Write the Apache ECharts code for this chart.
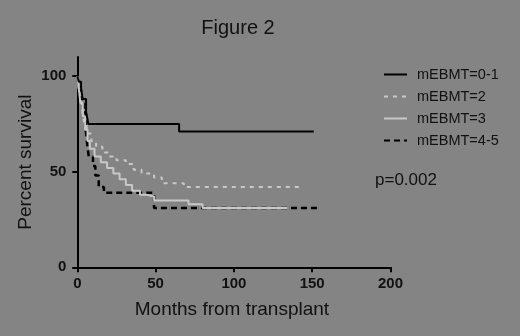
<!DOCTYPE html>
<html>
<head>
<meta charset="utf-8">
<script src="https://cdn.jsdelivr.net/npm/echarts@6/dist/echarts.min.js"></script>
<style>
  html, body { margin: 0; padding: 0; background: #848484; }
  #chart { width: 520px; height: 336px; }
</style>
</head>
<body>
<div id="chart"></div>
<script>
// Kaplan-Meier steps (months, percent survival)
const groups = ['mEBMT=0-1', 'mEBMT=2', 'mEBMT=3', 'mEBMT=4-5'];

const g01Months = [0, 0.9, 2.4, 3.4, 5.6, 6.4, 7, 65, 151];
const g01Surv   = [100, 97, 94, 88, 81, 78, 75, 71, 71];

const g2Months = [0, 1, 2.5, 3.5, 4.5, 6, 9, 12, 16, 20, 25, 31, 36, 41, 49, 54, 68, 142];
const g2Surv   = [100, 93, 86, 80, 75, 70, 66, 63, 60, 58, 56, 54, 51, 49, 47, 44, 42, 42];

const g3Months = [0, 1, 2, 3.5, 5, 6.5, 8, 11, 15, 19, 23, 27, 31, 35, 40, 44, 49, 71, 80, 134];
const g3Surv   = [100, 93, 86, 79, 72, 66, 62, 58, 55, 52, 49, 46, 43, 40, 38, 37, 35, 33, 31, 31];

const g45Months = [0, 1, 2, 4, 5.5, 6.2, 7.3, 10, 11.5, 13.7, 17, 49, 153];
const g45Surv   = [100, 95, 88, 81, 71, 65, 58, 53, 48, 42, 39, 31, 31];

const xTicks = [0, 50, 100, 150, 200];
const yTicks = [0, 50, 100];

const pText = 'p=0.002';

function pairs(xs, ys) {
  return xs.map((x, i) => [x, ys[i]]);
}

const font = 'Arial, "Liberation Sans", sans-serif';
const chart = echarts.init(document.getElementById('chart'));

chart.setOption({
  backgroundColor: '#848484',
  animation: false,
  textStyle: { fontFamily: font },
  title: {
    text: 'Figure 2',
    left: 233,
    top: 13,
    textAlign: 'center',
    textStyle: { fontSize: 20, fontWeight: 'normal', color: '#111', fontFamily: font }
  },
  legend: {
    data: groups,
    orient: 'vertical',
    left: 378,
    top: 62,
    itemWidth: 23,
    itemHeight: 14,
    itemGap: 7,
    itemStyle: { opacity: 0 },
    textStyle: { fontSize: 14.5, color: '#111', fontFamily: font, padding: [0, 0, 0, 5] }
  },
  graphic: [{
    type: 'text',
    left: 375,
    top: 172,
    style: { text: pText, fontSize: 17, fill: '#111', fontFamily: font }
  }],
  grid: { left: 73.4, right: 129.5, top: 57, bottom: 68.7 },
  xAxis: {
    type: 'value',
    min: -2.5,
    max: 200,
    name: 'Months from transplant',
    nameLocation: 'middle',
    nameGap: 33,
    nameTextStyle: { fontSize: 19, color: '#111' },
    splitLine: { show: false },
    axisLine: { lineStyle: { color: '#000', width: 2 } },
    axisTick: { customValues: xTicks, length: 5, lineStyle: { color: '#000', width: 2 } },
    axisLabel: { customValues: xTicks, color: '#111', fontSize: 15, fontWeight: 'bold', margin: 9 }
  },
  yAxis: {
    type: 'value',
    min: 0,
    max: 110,
    name: 'Percent survival',
    nameLocation: 'middle',
    nameGap: 38,
    nameMoveOverlap: false,
    nameTextStyle: { fontSize: 19, color: '#111' },
    splitLine: { show: false },
    axisLine: { lineStyle: { color: '#000', width: 2 } },
    axisTick: { customValues: yTicks, length: 5, lineStyle: { color: '#000', width: 2 } },
    axisLabel: { customValues: yTicks, color: '#111', fontSize: 15, fontWeight: 'bold', margin: 7 }
  },
  series: [
    {
      name: groups[0], type: 'line', step: 'end', symbol: 'none', z: 5,
      data: pairs(g01Months, g01Surv),
      lineStyle: { color: '#000', width: 2 }, itemStyle: { color: '#000' }
    },
    {
      name: groups[1], type: 'line', step: 'end', symbol: 'none', z: 3,
      data: pairs(g2Months, g2Surv),
      lineStyle: { color: '#c8c8c8', width: 2, type: [4, 5] }, itemStyle: { color: '#c8c8c8' }
    },
    {
      name: groups[2], type: 'line', step: 'end', symbol: 'none', z: 4,
      data: pairs(g3Months, g3Surv),
      lineStyle: { color: '#c8c8c8', width: 2 }, itemStyle: { color: '#c8c8c8' }
    },
    {
      name: groups[3], type: 'line', step: 'end', symbol: 'none', z: 2,
      data: pairs(g45Months, g45Surv),
      lineStyle: { color: '#000', width: 2.5, type: [6, 4] }, itemStyle: { color: '#000' }
    }
  ]
});
</script>
</body>
</html>
